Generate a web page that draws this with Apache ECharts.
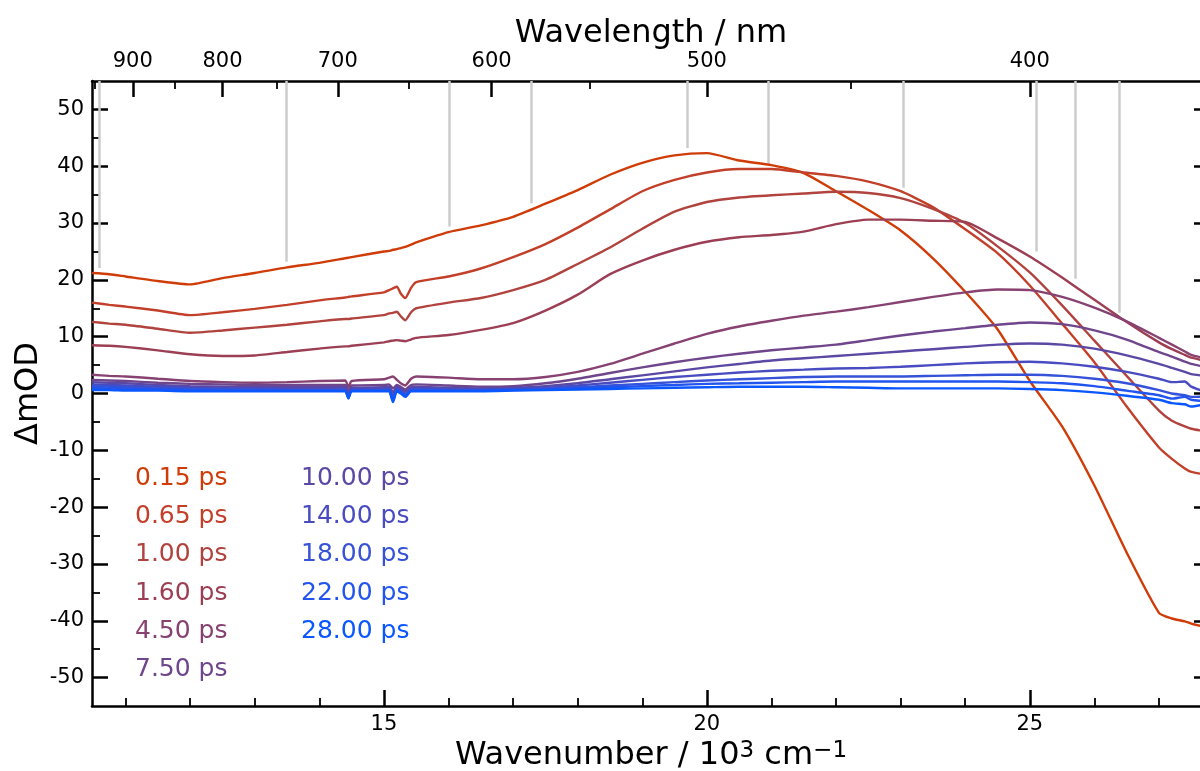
<!DOCTYPE html>
<html><head><meta charset="utf-8">
<script src="https://cdn.jsdelivr.net/npm/echarts@6/dist/echarts.min.js"></script>
<style>html,body{margin:0;padding:0;background:#fff}#c{width:1200px;height:771px}</style>
</head><body><div id="c"></div>
<script>
// ---- data (wavenumber in 10^3 cm^-1, ΔmOD) ----
const wavenumber = [10.48, 10.75, 11, 11.5, 12, 12.5, 13, 13.5, 14, 14.4, 14.45, 14.5, 15, 15.08, 15.14, 15.2, 15.26, 15.33, 15.42, 15.5, 16, 16.5, 17, 17.5, 18, 18.5, 19, 19.5, 20, 20.5, 21, 21.5, 22, 22.5, 23, 23.5, 24, 24.5, 25, 25.5, 26, 26.5, 27, 27.2, 27.4, 27.5, 27.79];
const delays = ['0.15 ps','0.65 ps','1.00 ps','1.60 ps','4.50 ps','7.50 ps','10.00 ps','14.00 ps','18.00 ps','22.00 ps','28.00 ps'];
const s0_15 = [21.2, 21.0, 20.6, 19.8, 19.2, 20.3, 21.2, 22.2, 23.0, 23.8, 23.9, 24.0, 25.0, 25.1, 25.3, 25.4, 25.6, 25.8, 26.2, 26.6, 28.4, 29.6, 31.1, 33.4, 35.8, 38.5, 40.6, 41.9, 42.3, 41.0, 40.2, 38.8, 35.6, 32.3, 28.7, 23.8, 17.9, 11.3, 2.2, -5.8, -16.2, -28.0, -38.6, -39.6, -40.1, -40.5, -41.3];
const s0_65 = [16.0, 15.6, 15.3, 14.6, 13.8, 14.3, 14.9, 15.6, 16.4, 16.9, 17.0, 17.1, 17.8, 18.2, 18.5, 18.8, 17.6, 16.8, 18.6, 19.6, 20.6, 22.0, 24.0, 26.3, 29.2, 32.4, 35.6, 37.6, 38.9, 39.5, 39.5, 38.9, 38.3, 37.3, 35.6, 32.8, 28.9, 24.7, 19.0, 12.3, 5.5, -2.3, -9.5, -11.5, -13.2, -13.8, -14.4];
const s1_00 = [12.6, 12.3, 12.1, 11.4, 10.7, 11.1, 11.6, 12.1, 12.7, 13.1, 13.1, 13.2, 13.8, 14.1, 14.2, 14.4, 13.6, 12.9, 14.3, 15.0, 16.0, 16.8, 18.2, 20.0, 22.8, 25.7, 29.0, 32.0, 33.7, 34.5, 34.9, 35.2, 35.5, 35.3, 34.4, 32.5, 30.0, 25.9, 21.3, 15.5, 9.3, 3.1, -3.0, -4.8, -5.8, -6.2, -6.8];
const s1_60 = [8.5, 8.4, 8.2, 7.6, 6.9, 6.6, 6.7, 7.3, 7.9, 8.3, 8.3, 8.4, 9.0, 9.2, 9.3, 9.4, 9.3, 9.2, 9.5, 9.8, 10.3, 11.2, 12.4, 14.6, 17.4, 21.0, 23.4, 25.3, 26.7, 27.5, 27.9, 28.5, 29.8, 30.6, 30.6, 30.4, 30.2, 27.3, 24.1, 20.4, 16.5, 12.6, 9.0, 7.8, 6.8, 6.3, 5.6];
const s4_50 = [3.3, 3.1, 3.0, 2.6, 2.2, 2.0, 1.9, 2.0, 2.2, 2.3, 1.1, 2.2, 2.5, 2.8, 3.0, 2.4, 1.8, 1.4, 2.6, 3.0, 2.8, 2.5, 2.5, 2.9, 3.8, 5.2, 7.0, 8.8, 10.5, 11.8, 12.8, 13.7, 14.4, 15.2, 16.1, 17.0, 17.8, 18.3, 18.2, 17.0, 15.1, 12.7, 9.8, 8.6, 7.4, 6.8, 6.0];
const s7_50 = [2.4, 2.3, 2.2, 1.9, 1.7, 1.6, 1.5, 1.5, 1.5, 1.5, 0.3, 1.4, 1.5, 1.6, 0.9, 1.5, 1.2, 0.7, 1.5, 1.6, 1.4, 1.2, 1.3, 1.8, 2.6, 3.6, 4.6, 5.5, 6.3, 7.0, 7.6, 8.1, 8.6, 9.4, 10.2, 10.9, 11.5, 12.1, 12.5, 12.2, 11.1, 9.5, 7.3, 6.5, 5.6, 5.2, 4.5];
const s10_00 = [2.0, 1.9, 1.8, 1.5, 1.3, 1.2, 1.1, 1.1, 1.1, 1.1, -0.1, 1.0, 1.1, 1.2, 0.2, 1.2, 0.9, 0.4, 1.1, 1.2, 1.0, 0.9, 1.0, 1.3, 1.8, 2.5, 3.2, 3.9, 4.6, 5.2, 5.8, 6.2, 6.6, 7.0, 7.4, 7.8, 8.2, 8.6, 8.8, 8.6, 7.9, 6.7, 5.2, 4.5, 3.8, 3.4, 3.0];
const s14_00 = [1.6, 1.5, 1.4, 1.2, 1.0, 0.9, 0.9, 0.8, 0.8, 0.8, -0.5, 0.8, 0.8, 0.9, -0.4, 0.9, 0.6, 0.0, 0.8, 0.9, 0.8, 0.7, 0.8, 1.0, 1.4, 1.9, 2.4, 2.9, 3.3, 3.7, 4.0, 4.2, 4.4, 4.5, 4.7, 5.0, 5.3, 5.5, 5.6, 5.3, 4.7, 3.8, 2.6, 2.0, 2.1, 1.2, 0.0];
const s18_00 = [1.3, 1.2, 1.1, 0.9, 0.8, 0.7, 0.7, 0.6, 0.6, 0.6, -0.7, 0.6, 0.6, 0.7, -0.8, 0.7, 0.4, -0.2, 0.6, 0.7, 0.6, 0.6, 0.7, 0.8, 1.1, 1.4, 1.7, 2.0, 2.3, 2.5, 2.7, 2.9, 3.0, 3.0, 3.0, 3.1, 3.2, 3.3, 3.3, 3.1, 2.6, 1.8, 0.6, 0.0, -0.3, -0.6, -0.5];
const s22_00 = [1.0, 0.9, 0.8, 0.7, 0.6, 0.5, 0.5, 0.5, 0.5, 0.5, -0.8, 0.5, 0.5, 0.5, -1.2, 0.5, 0.2, -0.4, 0.5, 0.5, 0.5, 0.5, 0.6, 0.7, 0.9, 1.1, 1.3, 1.5, 1.7, 1.8, 1.9, 2.0, 2.1, 2.1, 2.1, 2.1, 2.1, 2.1, 2.0, 1.8, 1.3, 0.5, -0.3, -0.9, -0.6, -1.1, -1.4];
const s28_00 = [0.6, 0.6, 0.5, 0.5, 0.4, 0.4, 0.4, 0.4, 0.4, 0.4, -0.9, 0.4, 0.4, 0.4, -1.5, 0.4, 0.0, -0.6, 0.4, 0.4, 0.4, 0.4, 0.5, 0.6, 0.7, 0.8, 0.9, 1.0, 1.1, 1.2, 1.2, 1.2, 1.1, 1.0, 0.9, 0.9, 0.9, 0.9, 0.8, 0.6, 0.2, -0.4, -1.1, -1.7, -1.9, -2.3, -1.7];
const seriesValues = [s0_15, s0_65, s1_00, s1_60, s4_50, s7_50, s10_00, s14_00, s18_00, s22_00, s28_00];
const colors = ['#d03c08','#c2402a','#b1433f','#9c3f54','#874272','#6f468c','#5b48a4','#484cc0','#3552d8','#2254ee','#0a56ff'];

// gray marker lines (wavenumber, lower end in ΔmOD)
const markerWavenumber = [10.593, 13.485, 16.004, 17.279, 19.69, 20.954, 23.045, 25.095, 25.70, 26.39];
const markerEnd = [22.1, 23.2, 29.4, 33.5, 43.2, 40.4, 36.2, 25.0, 20.2, 14.2];

// tick values
const yMajorTicks = [-50, -40, -30, -20, -10, 0, 10, 20, 30, 40, 50];
const yMinorTicks = [-45, -35, -25, -15, -5, 5, 15, 25, 35, 45];
const xMajorTicks = [15, 20, 25];
const xMinorTicks = [11, 12, 13, 14, 16, 17, 18, 19, 21, 22, 23, 24, 26, 27];
const wlMajorTicks = [900, 800, 700, 600, 500, 400];
const wlMinorTicks = [950, 850, 750, 650, 550, 450];

const XMIN = 10.48, XMAX = 27.79, YMIN = -55, YMAX = 55;
const FONT = 'DejaVu Sans';
const BLACK = '#000';

const chart = echarts.init(document.getElementById('c'), null, {renderer: 'canvas'});

function xAx(extra) {
  return Object.assign({
    type: 'value', min: XMIN, max: XMAX, splitLine: {show: false},
    axisLine: {show: false, onZero: false},
    axisLabel: {show: false}
  }, extra);
}
function yAx(extra) {
  return Object.assign({
    type: 'value', min: YMIN, max: YMAX, splitLine: {show: false},
    axisLine: {show: false, onZero: false},
    axisLabel: {show: false}
  }, extra);
}
const spine = {show: true, onZero: false, lineStyle: {color: BLACK, width: 2.5}};
const majTick = (vals) => ({show: true, inside: true, length: 16, customValues: vals, lineStyle: {color: BLACK, width: 2.5}});
const minTick = (vals) => ({show: true, inside: true, length: 8, customValues: vals, lineStyle: {color: BLACK, width: 1.8}});
const lbl = (vals, fmt, margin) => ({show: true, customValues: vals, formatter: fmt, fontSize: 21, color: BLACK, fontFamily: FONT, margin: margin});

const wlMajorWn = wlMajorTicks.map(w => 1e4 / w);
const wlMinorWn = wlMinorTicks.map(w => 1e4 / w);

const series = [{
  type: 'lines', coordinateSystem: 'cartesian2d', xAxisIndex: 0, yAxisIndex: 0,
  silent: true, z: 1, polyline: false,
  lineStyle: {color: '#cccccc', width: 2.5, opacity: 1},
  data: markerWavenumber.map((w, i) => ({coords: [[w, YMAX], [w, markerEnd[i]]]}))
}];
seriesValues.forEach((vals, i) => {
  series.push({
    name: delays[i], type: 'line', xAxisIndex: 0, yAxisIndex: 0,
    data: wavenumber.map((x, k) => [x, vals[k]]),
    showSymbol: false, symbol: 'none', z: 2 + i,
    smooth: 0.2,
    lineStyle: {color: colors[i], width: 2.4},
    itemStyle: {color: colors[i]},
    emphasis: {disabled: true}, silent: true
  });
});

const legendBase = {
  orient: 'vertical', selectedMode: false, padding: 0, icon: 'rect',
  itemWidth: 0, itemHeight: 0, itemGap: 13.2, top: 466,
  textStyle: {fontSize: 25, fontFamily: FONT, lineHeight: 25}
};

const option = {
  animation: false,
  backgroundColor: '#fff',
  textStyle: {fontFamily: FONT},
  grid: {left: 92, top: 81, right: -10, bottom: 65, containLabel: false, outerBoundsMode: 'none'},
  xAxis: [
    xAx({position: 'bottom', axisLine: spine, axisTick: majTick(xMajorTicks),
         axisLabel: lbl(xMajorTicks, v => String(v), 8),
         name: '{n|Wavenumber / 10}{s|3}{n| cm}{s|\u22121}', nameLocation: 'middle', nameGap: 31,
         nameTextStyle: {fontSize: 32, color: BLACK, fontFamily: FONT,
           rich: {n: {fontSize: 32, lineHeight: 32, color: BLACK, fontFamily: FONT},
                  s: {fontSize: 23, lineHeight: 20, color: BLACK, fontFamily: FONT, verticalAlign: 'top'}}}}),
    xAx({position: 'bottom', axisTick: minTick(xMinorTicks)}),
    xAx({position: 'top', axisLine: spine, axisTick: majTick(wlMajorWn),
         axisLabel: lbl(wlMajorWn, v => String(Math.round(1e4 / v)), 9),
         name: 'Wavelength / nm', nameLocation: 'middle', nameGap: 31, nameMoveOverlap: false,
         nameTextStyle: {fontSize: 32, color: BLACK, fontFamily: FONT}}),
    xAx({position: 'top', axisTick: minTick(wlMinorWn)})
  ],
  yAxis: [
    yAx({position: 'left', axisLine: spine, axisTick: majTick(yMajorTicks),
         axisLabel: lbl(yMajorTicks, v => String(v), 8),
         name: '\u0394mOD', nameLocation: 'middle', nameGap: 47, nameMoveOverlap: false,
         nameTextStyle: {fontSize: 32, color: BLACK, fontFamily: FONT}}),
    yAx({position: 'left', axisTick: minTick(yMinorTicks)}),
    yAx({position: 'right', axisLine: spine, axisTick: majTick(yMajorTicks)}),
    yAx({position: 'right', axisTick: minTick(yMinorTicks)})
  ],
  legend: [
    Object.assign({}, legendBase, {left: 130,
      data: delays.slice(0, 6).map((d, i) => ({name: d, textStyle: {color: colors[i]}}))}),
    Object.assign({}, legendBase, {left: 296,
      data: delays.slice(6).map((d, i) => ({name: d, textStyle: {color: colors[i + 6]}}))})
  ],
  series: series
};
chart.setOption(option);
</script>
</body></html>
